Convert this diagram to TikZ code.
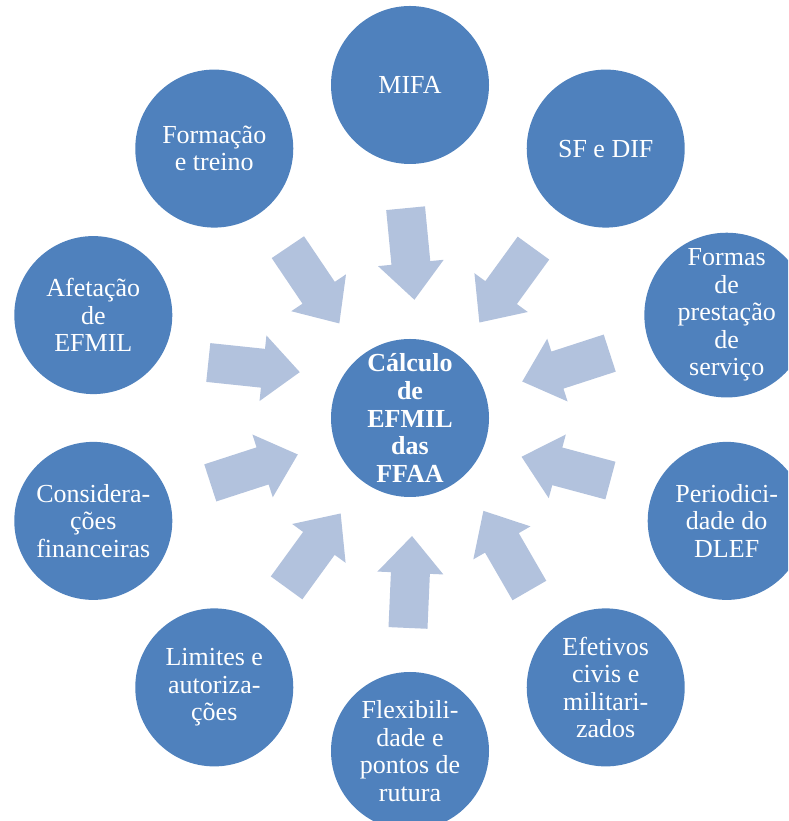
\documentclass[tikz,border=0pt]{standalone}
\usepackage{fontspec}
\setmainfont{Liberation Serif}
\usetikzlibrary{calc}
\definecolor{discblue}{HTML}{4F81BD}
\definecolor{arrowblue}{HTML}{B2C2DD}
% inward block arrow: #1 = direction of the outer disc, #2 = extra tilt of the arrow
\newcommand\feedarrow[2]{%
  \begin{scope}[shift={(C)}, rotate=#1]
    \fill[inarrow, rotate around={#2:(164,0)}]
      (210,19.5) -- (155,19.5) -- (155,33) -- (118,0) -- (155,-33)
      -- (155,-19.5) -- (210,-19.5) -- cycle;
  \end{scope}}
\begin{document}
\begin{tikzpicture}[x=1pt,y=1pt,
  disc/.style={circle, fill=discblue, minimum size=158pt, inner sep=0pt,
    text=white, align=center, font=\fontsize{26}{27.5}\selectfont},
  hub/.style={disc, font=\fontsize{26}{27.7}\selectfont\bfseries},
  inarrow/.style={fill=arrowblue}]
\useasboundingbox (0,0) rectangle (788,821);
\clip (0,0) rectangle (788,821);
\coordinate (C) at (410,403);

% outer ring of topics
\node[disc] (mifa)   at ($(C)+(90:333)$)  {MIFA};
\node[disc] (sfdif)  at ($(C)+(54:333)$)  {SF e DIF};
\node[disc] (formas) at ($(C)+(18:333)$)  {Formas\\de\\prestação\\de\\serviço};
\node[disc] (period) at ($(C)+(-18:333)$) {Periodici-\\dade do\\DLEF};
\node[disc] (efet)   at ($(C)+(-54:333)$) {Efetivos\\civis e\\militari-\\zados};
\node[disc] (flex)   at ($(C)+(-90:333)$) {Flexibili-\\dade e\\pontos de\\rutura};
\node[disc] (limit)  at ($(C)+(234:333)$) {Limites e\\autoriza-\\ções};
\node[disc] (consid) at ($(C)+(198:333)$) {Considera-\\ções\\financeiras};
\node[disc] (afet)   at ($(C)+(162:333)$) {Afetação\\de\\EFMIL};
\node[disc] (form)   at ($(C)+(126:333)$) {Formação\\e treino};

% arrows converging on the hub
\feedarrow{90}{5.5}
\feedarrow{54}{0}
\feedarrow{18}{0}
\feedarrow{-18}{3}
\feedarrow{-54}{-6}
\feedarrow{-90}{-2.5}
\feedarrow{234}{0}
\feedarrow{198}{0}
\feedarrow{162}{12}
\feedarrow{126}{-2}

% hub
\node[hub] (hub) at (C) {Cálculo\\de\\EFMIL\\das\\FFAA};
\end{tikzpicture}
\end{document}
